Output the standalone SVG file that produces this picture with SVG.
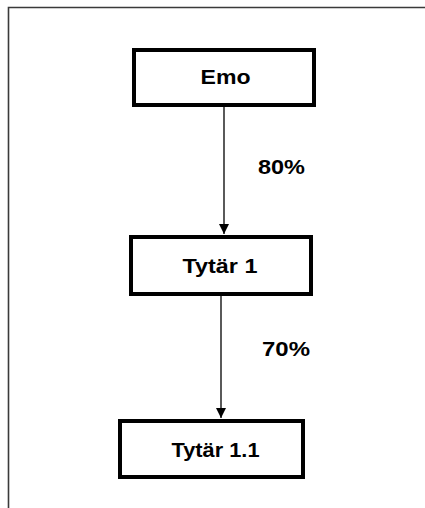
<svg xmlns="http://www.w3.org/2000/svg" width="425" height="508" viewBox="0 0 425 508">
<defs>
<style>
.box{fill:#fff;stroke:#000;stroke-width:4}
.lbl{font-family:"Liberation Sans",Arial,sans-serif;font-weight:bold;font-size:21px;fill:#000}
.conn{stroke:#000;stroke-width:1.3;fill:none}
.frame{stroke:#3a3a3a;stroke-width:1.6;fill:none}
</style>
<marker id="arr" markerWidth="10" markerHeight="10" refX="10" refY="5" orient="auto" markerUnits="userSpaceOnUse">
<path d="M0,0 L10,5 L0,10 Z" fill="#000"/>
</marker>
</defs>
<rect width="425" height="508" fill="#fff"/>
<path class="frame" d="M8.5,520 L8.5,7.5 L430,7.5"/>
<g id="connectors">
<line class="conn" x1="224" y1="107" x2="224" y2="234" marker-end="url(#arr)"/>
<line class="conn" x1="221" y1="296" x2="221" y2="418" marker-end="url(#arr)"/>
<text class="lbl" x="258" y="174" textLength="47" lengthAdjust="spacingAndGlyphs">80%</text>
<text class="lbl" x="262" y="356" textLength="48" lengthAdjust="spacingAndGlyphs">70%</text>
</g>
<g id="emo">
<rect class="box" x="134" y="50" width="180" height="55"/>
<text class="lbl" x="200.5" y="84" textLength="50" lengthAdjust="spacingAndGlyphs">Emo</text>
</g>
<g id="tytar1">
<rect class="box" x="131" y="237" width="180" height="57"/>
<text class="lbl" x="182.5" y="273" textLength="75" lengthAdjust="spacingAndGlyphs">Tytär 1</text>
</g>
<g id="tytar11">
<rect class="box" x="120" y="421" width="183" height="56"/>
<text class="lbl" x="171.5" y="457" textLength="88" lengthAdjust="spacingAndGlyphs">Tytär 1.1</text>
</g>
</svg>
